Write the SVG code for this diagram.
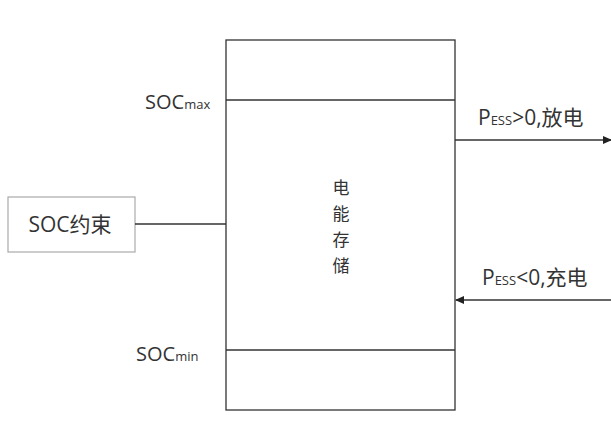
<svg xmlns="http://www.w3.org/2000/svg" width="611" height="425" viewBox="0 0 611 425">
<style>
.ln{stroke:#333;stroke-width:1.3;fill:none}
.t{font-family:"Open Sans","Noto Sans CJK SC",sans-serif;fill:#333;font-size:20px}
.b{font-size:21px}
.s{font-size:13px}
.c{font-family:"Noto Sans CJK SC",sans-serif;fill:#333;font-size:17px;text-anchor:middle}
</style>
<defs>
<marker id="ah" markerWidth="9" markerHeight="8" refX="8" refY="4" orient="auto" markerUnits="userSpaceOnUse">
<path d="M0,0 L9,4 L0,8 Z" fill="#222"/>
</marker>
</defs>
<rect width="611" height="425" fill="#fff"/>
<g id="storage">
<rect x="226" y="40" width="229" height="370" class="ln"/>
<line x1="226" y1="100" x2="455" y2="100" class="ln"/>
<line x1="226" y1="350" x2="455" y2="350" class="ln"/>
<text class="c" x="341" y="194">电</text>
<text class="c" x="341" y="220">能</text>
<text class="c" x="341" y="246">存</text>
<text class="c" x="341" y="272">储</text>
<text class="t" x="145" y="109">SOC<tspan class="s">max</tspan></text>
<text class="t" x="136" y="361">SOC<tspan class="s">min</tspan></text>
</g>
<g id="soc">
<rect x="8" y="197" width="127" height="55" fill="#fff" stroke="#aaa" stroke-width="1.2"/>
<text class="t b" x="70" y="232" text-anchor="middle">SOC约束</text>
</g>
<g id="labels">
<text class="t b" x="478" y="125">P<tspan class="s">ESS</tspan>&gt;0,放电</text>
<text class="t b" x="482" y="285">P<tspan class="s">ESS</tspan>&lt;0,充电</text>
</g>
<g id="connectors">
<line x1="135" y1="224" x2="226" y2="224" class="ln"/>
<line x1="455" y1="140" x2="611" y2="140" class="ln" marker-end="url(#ah)"/>
<line x1="611" y1="300" x2="456" y2="300" class="ln" marker-end="url(#ah)"/>
</g>
</svg>
